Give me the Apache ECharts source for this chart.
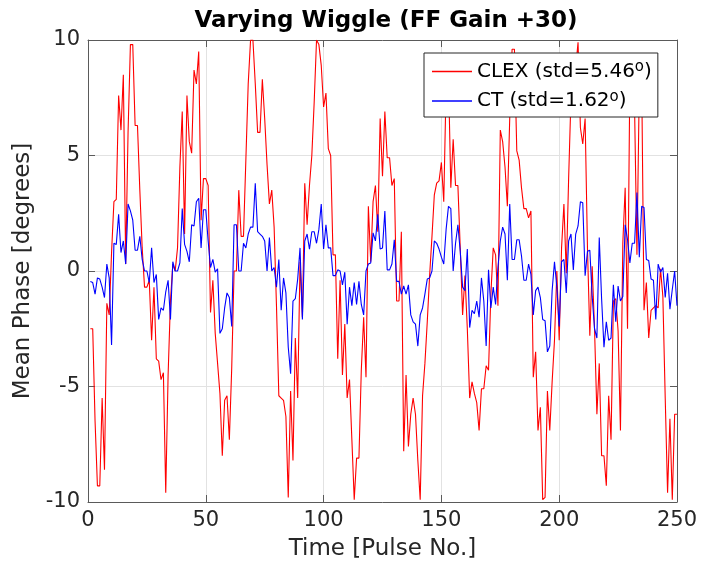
<!DOCTYPE html>
<html>
<head>
<meta charset="utf-8">
<script src="https://cdn.jsdelivr.net/npm/echarts@6/dist/echarts.min.js"></script>
<style>html,body{margin:0;padding:0;background:#fff}#c{width:701px;height:566px}</style>
</head>
<body>
<div id="c"></div>
<script>
var titleText = 'Varying Wiggle (FF Gain +30)';
var xName = 'Time [Pulse No.]';
var yName = 'Mean Phase [degrees]';
var seriesNames = ['CLEX', 'CT'];
var seriesStd = ['5.46', '1.62'];
var seriesColors = ['#ff0000', '#0000ff'];
var xTicks = [0, 50, 100, 150, 200, 250];
var yTicks = [-10, -5, 0, 5, 10];

var clex = [
-2.5,-2.5,-6.5,-9.3,-9.3,-5.5,-8.6,-1.4,-1.9,0.8,
3.0,3.1,7.6,6.1,8.5,0.3,6.0,9.8,9.8,6.3,
6.3,3.5,1.0,-0.7,-0.7,-0.4,-3.0,-0.7,-3.8,-3.9,
-4.7,-4.4,-9.6,-4.5,-1.3,0.3,0.0,1.0,4.5,6.9,
1.6,7.6,5.6,5.1,8.7,8.1,9.5,2.2,4.0,4.0,
3.7,-1.8,-0.4,-2.7,-4.0,-5.3,-8.0,-5.6,-5.4,-7.3,
-4.2,0.0,0.0,3.5,1.5,1.5,4.8,8.1,10.0,10.0,
8.1,6.0,6.0,8.3,6.6,4.6,2.9,3.5,1.9,-1.5,
-5.4,-5.5,-5.6,-6.3,-9.8,-5.2,-8.2,-2.9,-5.5,0.4,
-2.0,3.8,2.0,3.7,5.0,7.3,10.0,9.8,8.9,7.1,
7.7,5.3,5.0,0.7,0.7,-3.8,-0.4,-4.5,-2.3,-5.5,
-4.7,-7.3,-9.9,-8.1,-8.1,-4.3,-2.0,-4.6,2.8,0.4,
3.0,3.7,1.7,6.6,4.1,6.9,4.9,4.9,3.7,4.0,
-1.3,-1.3,1.7,-7.8,-4.5,-7.6,-6.2,-5.5,-6.2,-8.2,
-9.9,-5.4,-4.0,-2.2,-0.2,1.5,3.3,3.8,3.9,4.7,
3.0,8.0,8.5,3.6,5.7,3.7,3.7,1.0,-1.9,-0.2,
-2.5,-5.5,-4.8,-5.3,-5.7,-6.9,-5.1,-5.1,-4.1,-4.3,
-1.0,1.0,0.7,-1.5,6.1,5.6,4.5,2.8,6.6,9.6,
9.6,5.2,4.8,3.6,2.7,2.7,2.3,2.6,-4.6,-3.5,
-6.9,-5.9,-9.9,-9.8,-5.2,-6.9,-4.8,-3.0,0.0,-3.0,
1.0,2.9,-0.1,4.0,7.5,9.4,8.8,9.9,6.2,5.5,
6.6,1.0,-2.8,0.2,-2.5,-6.2,-4.0,-8.0,-8.0,-9.3,
-5.4,-7.3,-1.3,-1.2,-2.6,-6.9,1.2,3.6,-2.5,8.5,
8.5,7.0,0.7,8.0,8.5,-1.7,-0.5,-2.9,-1.7,-1.6,
-1.5,-1.6,0.1,-1.1,-5.5,-9.6,-6.4,-9.9,-6.2,-6.2
];

var ct = [
-0.45,-0.5,-1.0,-0.3,-0.35,-0.7,-1.15,0.3,-0.3,-3.2,
1.2,1.15,2.45,0.8,1.3,0.3,2.9,2.6,2.2,0.9,
0.9,1.5,0.5,0.0,0.0,-0.5,1.0,-0.5,-0.15,-2.1,
-1.6,-1.7,-0.9,-0.4,-2.1,0.4,0.0,0.0,0.35,2.7,
1.15,0.85,0.4,2.0,1.95,3.0,3.15,1.0,2.65,2.65,
1.3,0.15,0.5,-0.05,0.1,-2.7,-2.5,-1.6,-0.95,-1.15,
-2.4,2.0,2.0,0.0,0.0,1.2,1.0,1.6,1.9,1.9,
3.8,1.7,1.6,1.5,1.3,0.0,1.45,0.0,0.15,-0.7,
0.5,-1.7,-0.3,-0.95,-3.3,-4.45,-1.3,-1.2,-0.35,1.0,
-2.1,1.3,1.6,0.95,1.7,1.7,1.2,1.8,2.9,0.95,
2.0,1.0,1.0,-0.2,-0.2,0.05,0.0,-0.6,-0.05,-2.3,
-0.7,-1.5,-0.5,-1.45,-0.45,-1.45,-1.9,0.0,0.3,0.35,
1.65,1.3,2.45,0.95,1.0,2.6,0.05,0.05,0.3,1.35,
-0.45,-0.45,-1.0,-0.65,-1.0,-0.6,-1.9,-2.2,-2.3,-3.25,
-1.9,-1.6,-1.0,-0.35,-0.3,0.0,1.3,1.2,0.95,0.6,
0.3,1.8,2.8,2.7,0.0,1.2,2.0,0.85,-0.7,-0.85,
0.95,-2.45,-1.7,-1.85,-1.3,-2.0,-0.3,-1.3,-3.25,0.05,
-1.6,-0.7,-1.45,0.15,1.3,1.9,1.6,-0.4,2.9,0.5,
0.5,1.35,1.35,0.65,-0.4,-0.4,0.3,-0.15,-1.9,-0.85,
-0.7,-1.15,-2.1,-2.15,-3.5,-3.25,-0.85,0.4,-0.7,-2.4,
0.4,0.5,-0.95,1.3,1.6,0.05,1.6,1.95,3.0,2.95,
-0.2,0.85,0.9,-1.1,-2.5,-2.9,1.45,-1.2,-3.3,-2.2,
-3.0,-2.9,-0.6,-2.2,-0.65,-1.3,-1.1,2.0,1.35,0.35,
1.2,1.2,3.4,0.6,2.8,2.75,0.5,0.45,-0.35,-0.4,
-2.1,0.3,-0.05,0.15,-1.15,-0.1,-1.65,-0.8,0.0,-1.5
];

var seriesValues = [clex, ct];

function toPairs(vals) {
  return vals.map(function (v, i) { return [i + 1, v]; });
}

var FONT = 'DejaVu Sans';
var TXT = '#262626';
var AX = '#5a5a5a';
var GRID = '#e2e2e2';

var chart = echarts.init(document.getElementById('c'), null, {renderer: 'canvas'});

var option = {
  animation: false,
  backgroundColor: '#ffffff',
  textStyle: {fontFamily: FONT},
  title: {
    text: titleText,
    left: 381,
    textAlign: 'center',
    top: 5,
    textStyle: {fontFamily: FONT, fontWeight: 'bold', fontSize: 23, color: '#000'}
  },
  grid: {left: 88, right: 24, top: 40, bottom: 63, containLabel: false},
  legend: {
    data: seriesNames,
    orient: 'vertical',
    left: 424,
    top: 53,
    itemWidth: 40,
    itemHeight: 1.5,
    itemGap: 8,
    icon: 'rect',
    selectedMode: false,
    backgroundColor: '#ffffff',
    borderColor: '#262626',
    borderWidth: 1,
    padding: [7, 6, 6, 8],
    formatter: function (name) {
      var i = seriesNames.indexOf(name);
      return '{t|' + name + ' (std=' + seriesStd[i] + '}{s|o}{t|)}';
    },
    textStyle: {
      fontFamily: FONT, fontSize: 20, color: '#000',
      rich: {
        t: {fontFamily: FONT, fontSize: 20, color: '#000', lineHeight: 23},
        s: {fontFamily: FONT, fontSize: 15, color: '#000', verticalAlign: 'top', lineHeight: 13}
      }
    }
  },
  xAxis: [{
    type: 'value', min: xTicks[0], max: xTicks[xTicks.length - 1], interval: 50,
    position: 'bottom',
    name: xName, nameLocation: 'middle', nameGap: 36,
    nameTextStyle: {fontFamily: FONT, fontSize: 23, color: TXT},
    axisLine: {show: true, onZero: false, lineStyle: {color: AX, width: 1}},
    axisTick: {show: true, inside: true, length: 7, lineStyle: {color: AX}},
    axisLabel: {fontFamily: FONT, fontSize: 21, color: TXT, margin: 8},
    splitLine: {show: true, lineStyle: {color: GRID, width: 1}}
  }, {
    type: 'value', min: xTicks[0], max: xTicks[xTicks.length - 1], interval: 50,
    position: 'top',
    axisLine: {show: true, onZero: false, lineStyle: {color: AX, width: 1}},
    axisTick: {show: true, inside: true, length: 7, lineStyle: {color: AX}},
    axisLabel: {show: false},
    splitLine: {show: false}
  }],
  yAxis: [{
    type: 'value', min: yTicks[0], max: yTicks[yTicks.length - 1], interval: 5,
    position: 'left',
    name: yName, nameLocation: 'middle', nameGap: 50,
    nameTextStyle: {fontFamily: FONT, fontSize: 23, color: TXT},
    axisLine: {show: true, onZero: false, lineStyle: {color: AX, width: 1}},
    axisTick: {show: true, inside: true, length: 7, lineStyle: {color: AX}},
    axisLabel: {fontFamily: FONT, fontSize: 21, color: TXT, margin: 8},
    splitLine: {show: true, lineStyle: {color: GRID, width: 1}}
  }, {
    type: 'value', min: yTicks[0], max: yTicks[yTicks.length - 1], interval: 5,
    position: 'right',
    axisLine: {show: true, onZero: false, lineStyle: {color: AX, width: 1}},
    axisTick: {show: true, inside: true, length: 7, lineStyle: {color: AX}},
    axisLabel: {show: false},
    splitLine: {show: false}
  }],
  series: seriesNames.map(function (n, i) {
    return {
      name: n,
      type: 'line',
      xAxisIndex: 0,
      yAxisIndex: 0,
      data: toPairs(seriesValues[i]),
      showSymbol: false,
      symbol: 'none',
      color: seriesColors[i],
      lineStyle: {color: seriesColors[i], width: 1.1},
      itemStyle: {color: seriesColors[i]},
      clip: true,
      z: 2 + i
    };
  })
};

chart.setOption(option);
</script>
</body>
</html>
